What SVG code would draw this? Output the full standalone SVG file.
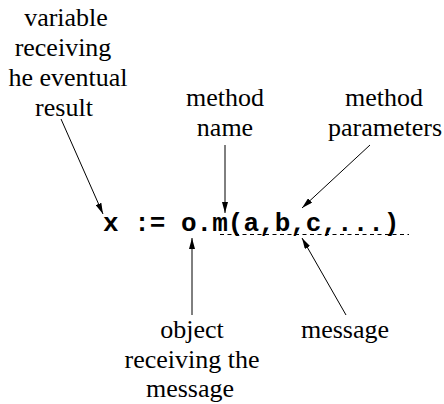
<svg xmlns="http://www.w3.org/2000/svg" width="444" height="404" viewBox="0 0 444 404">
  <style>
    .lbl { font-family: 'Liberation Serif', 'Times New Roman', serif; font-size: 26px; fill: #000; text-anchor: middle; }
    .code { font-family: 'Liberation Mono', 'Courier New', monospace; font-size: 26px; font-weight: bold; fill: #000; white-space: pre; }
    .conn { stroke: #000; stroke-width: 1; fill: none; }
    .dash { stroke: #000; stroke-width: 1; stroke-dasharray: 4 3.5; fill: none; }
  </style>
  <defs>
    <marker id="arrow" markerUnits="userSpaceOnUse" markerWidth="11" markerHeight="6" refX="11" refY="3" orient="auto">
      <path d="M0,0 L11,3 L0,6 Z" fill="#000"/>
    </marker>
  </defs>
  <rect width="444" height="404" fill="#fff"/>

  <!-- statement -->
  <g id="statement">
    <text class="code" x="103" y="231">x := o.m(a,b,c,...)</text>
  </g>

  <!-- annotations -->
  <g id="result-var">
    <text class="lbl" x="66" y="26">variable</text>
    <text class="lbl" x="63" y="56">receiving</text>
    <text class="lbl" x="68" y="86">he eventual</text>
    <text class="lbl" x="64" y="116">result</text>
  </g>
  <g id="method-name">
    <text class="lbl" x="225" y="106">method</text>
    <text class="lbl" x="225" y="136">name</text>
  </g>
  <g id="method-params">
    <text class="lbl" x="384" y="106">method</text>
    <text class="lbl" x="385" y="136">parameters</text>
  </g>
  <g id="receiver">
    <text class="lbl" x="192" y="338">object</text>
    <text class="lbl" x="192" y="368">receiving the</text>
    <text class="lbl" x="190" y="397">message</text>
  </g>
  <g id="message">
    <text class="lbl" x="345" y="338">message</text>
  </g>

  <!-- connectors -->
  <g id="connectors">
    <line class="dash" x1="220" y1="234.5" x2="409" y2="234.5"/>
    <line class="conn" x1="61" y1="119" x2="103" y2="214" marker-end="url(#arrow)"/>
    <line class="conn" x1="225" y1="145" x2="225" y2="213" marker-end="url(#arrow)"/>
    <line class="conn" x1="370" y1="145" x2="302" y2="208" marker-end="url(#arrow)"/>
    <line class="conn" x1="192" y1="315" x2="192" y2="238" marker-end="url(#arrow)"/>
    <line class="conn" x1="346" y1="315" x2="302" y2="238" marker-end="url(#arrow)"/>
  </g>
</svg>
